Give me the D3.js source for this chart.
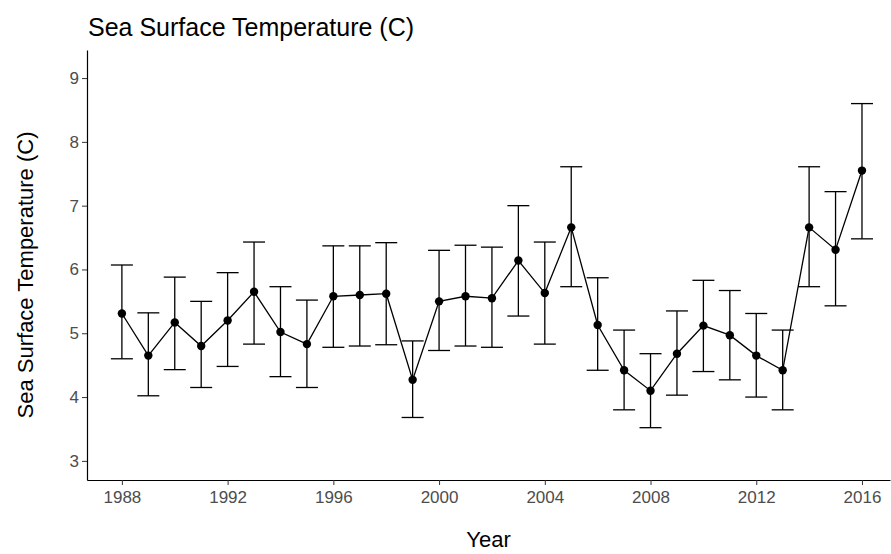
<!DOCTYPE html>
<html><head><meta charset="utf-8">
<script src="https://cdn.jsdelivr.net/npm/d3@7"></script>
<style>body{margin:0;background:#fff}</style></head>
<body><svg id="c" width="891" height="554"></svg>
<script>
const years=[1988,1989,1990,1991,1992,1993,1994,1995,1996,1997,1998,1999,2000,2001,2002,2003,2004,2005,2006,2007,2008,2009,2010,2011,2012,2013,2014,2015,2016];
const means=[5.31,4.65,5.17,4.80,5.20,5.65,5.02,4.83,5.58,5.60,5.62,4.27,5.50,5.58,5.55,6.14,5.63,6.66,5.13,4.42,4.10,4.68,5.12,4.97,4.65,4.42,6.66,6.31,7.55];
const lows=[4.60,4.02,4.43,4.15,4.48,4.83,4.32,4.15,4.78,4.80,4.82,3.68,4.73,4.80,4.78,5.27,4.83,5.73,4.42,3.80,3.52,4.03,4.40,4.27,4.00,3.80,5.73,5.43,6.48];
const highs=[6.07,5.32,5.88,5.50,5.95,6.43,5.73,5.52,6.37,6.37,6.42,4.88,6.30,6.38,6.35,7.00,6.43,7.61,5.87,5.05,4.68,5.35,5.83,5.67,5.31,5.05,7.61,7.22,8.60];
const xTicks=[1988,1992,1996,2000,2004,2008,2012,2016];
const yTicks=[3,4,5,6,7,8,9];
const svg=d3.select("#c");
const L=87,R=890,T=50,B=480;
const x=d3.scaleLinear().domain([1986.68,2017.06]).range([L,R]);
const y=d3.scaleLinear().domain([2.70,9.44]).range([B,T]);
const data=years.map((yr,i)=>({yr,m:means[i],lo:lows[i],hi:highs[i]}));
const gx=svg.append("g").attr("transform",`translate(0,${B})`).call(d3.axisBottom(x).tickValues(xTicks).tickFormat(d3.format("d")).tickSize(5).tickSizeOuter(0));
const gy=svg.append("g").attr("transform",`translate(${L},0)`).call(d3.axisLeft(y).tickValues(yTicks).tickFormat(d3.format("d")).tickSize(5).tickSizeOuter(0));
[gx,gy].forEach(g=>{g.selectAll("text").attr("fill","#4d4d4d").style("font-family","Liberation Sans, Arial").style("font-size","17px");g.select(".domain").attr("stroke","#000").attr("stroke-width",1.2);g.selectAll(".tick line").attr("stroke","#333")});
gx.selectAll("text").attr("dy","0.9em");
const w=11;
const eb=svg.append("g").attr("stroke","#000").attr("stroke-width",1.3);
data.forEach(d=>{
 eb.append("line").attr("x1",x(d.yr)).attr("x2",x(d.yr)).attr("y1",y(d.lo)).attr("y2",y(d.hi));
 eb.append("line").attr("x1",x(d.yr)-w).attr("x2",x(d.yr)+w).attr("y1",y(d.lo)).attr("y2",y(d.lo));
 eb.append("line").attr("x1",x(d.yr)-w).attr("x2",x(d.yr)+w).attr("y1",y(d.hi)).attr("y2",y(d.hi));
});
svg.append("path").datum(data).attr("fill","none").attr("stroke","#000").attr("stroke-width",1.3)
 .attr("d",d3.line().x(d=>x(d.yr)).y(d=>y(d.m)));
svg.selectAll("circle.p").data(data).join("circle").attr("cx",d=>x(d.yr)).attr("cy",d=>y(d.m)).attr("r",4.2).attr("fill","#000");
const f="Liberation Sans, Arial";
svg.append("text").attr("x",88).attr("y",36).style("font-family",f).style("font-size","25px").text("Sea Surface Temperature (C)");
svg.append("text").attr("transform",`translate(33,${(T+B)/2+10}) rotate(-90)`).attr("text-anchor","middle").style("font-family",f).style("font-size","22px").text("Sea Surface Temperature (C)");
svg.append("text").attr("x",(L+R)/2).attr("y",547).attr("text-anchor","middle").style("font-family",f).style("font-size","22px").text("Year");
</script></body></html>
